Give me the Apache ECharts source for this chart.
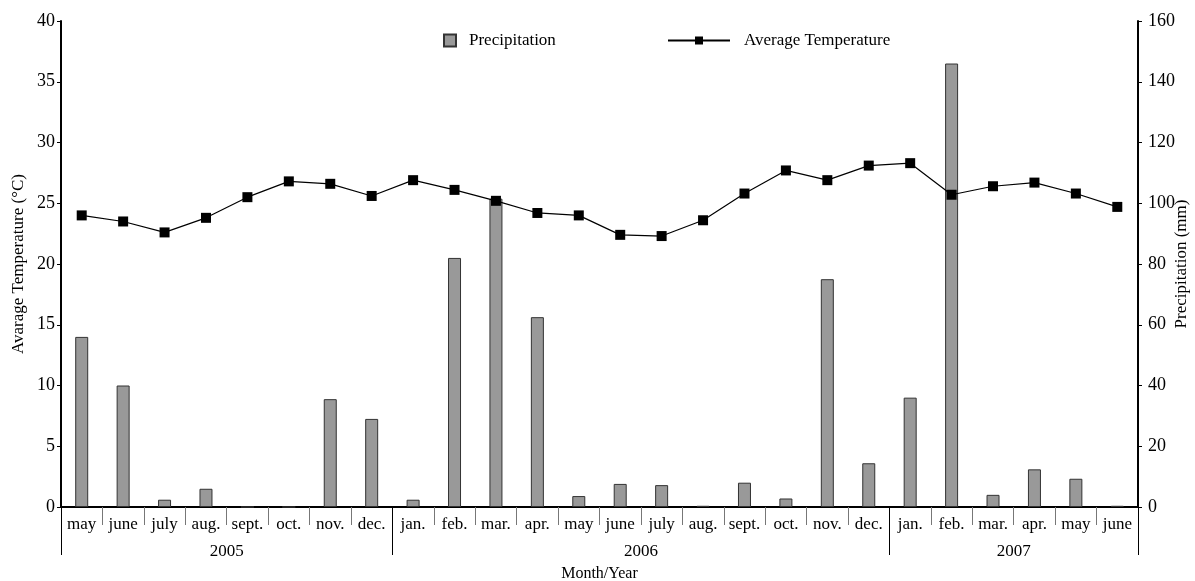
<!DOCTYPE html>
<html><head><meta charset="utf-8">
<script src="https://cdn.jsdelivr.net/npm/echarts@6/dist/echarts.min.js"></script>
<style>html,body{margin:0;padding:0;background:#fff}#c{width:1195px;height:581px}</style>
</head><body><div id="c"></div>
<script>
var months = ['may','june','july','aug.','sept.','oct.','nov.','dec.','jan.','feb.','mar.','apr.','may','june','july','aug.','sept.','oct.','nov.','dec.','jan.','feb.','mar.','apr.','may','june'];
var years = ['2005','2006','2007'];
var yearLabelPos = [4, 14, 23];
var yearBoundaries = [0, 8, 20, 26];
var precipitation = [56,40,2.4,6,0,0,35.5,29,2.4,82,101.5,62.5,3.6,7.6,7.2,0.4,8,2.8,75,14.4,36,146,4,12.4,9.3,0.4];
var temperature = [24.0,23.5,22.6,23.8,25.5,26.8,26.6,25.6,26.9,26.1,25.2,24.2,24.0,22.4,22.3,23.6,25.8,27.7,26.9,28.1,28.3,25.7,26.4,26.7,25.8,24.7];
var tempTicks = {min:0, max:40, interval:5};
var precTicks = {min:0, max:160, interval:20};

var font = 'Liberation Serif';
var chart = echarts.init(document.getElementById('c'));
chart.setOption({
  animation:false,
  textStyle:{fontFamily:font, color:'#000'},
  legend:[
    {data:[{name:'Precipitation', icon:'rect'}], left:443, top:32, padding:0, itemWidth:12, itemHeight:12,
     textStyle:{fontFamily:font, fontSize:17, color:'#000', padding:[0,0,0,8]}},
    {data:['Average Temperature'], left:667, top:32, padding:0, itemWidth:62, itemHeight:10,
     textStyle:{fontFamily:font, fontSize:17, color:'#000', padding:[0,0,0,9]}}
  ],
  grid:{left:61, right:57, top:21, bottom:74, containLabel:false, outerBoundsMode:'none'},
  xAxis:[
    {type:'category', data:months, boundaryGap:true,
     axisLine:{lineStyle:{color:'#000', width:2}},
     axisTick:{show:true, length:18, lineStyle:{color:'#777', width:1}},
     axisLabel:{fontFamily:font, fontSize:17, color:'#000', margin:9, interval:0}},
    {type:'value', min:0, max:26, position:'bottom',
     axisLine:{show:false}, splitLine:{show:false},
     axisTick:{show:true, customValues:yearBoundaries, length:48, lineStyle:{color:'#000', width:1}},
     axisLabel:{show:true, customValues:yearLabelPos, margin:36, fontFamily:font, fontSize:17, color:'#000',
       formatter:function(v){var i=yearLabelPos.indexOf(v);return i>=0?years[i]:'';}},
     name:'Month/Year', nameLocation:'middle', nameGap:59, nameMoveOverlap:false,
     nameTextStyle:{fontFamily:font, fontSize:16, color:'#000'}}
  ],
  yAxis:[
    {type:'value', min:tempTicks.min, max:tempTicks.max, interval:tempTicks.interval, position:'left',
     axisLine:{show:true, lineStyle:{color:'#000', width:2}},
     axisTick:{show:true, length:4, lineStyle:{color:'#000'}},
     axisLabel:{fontFamily:font, fontSize:18, color:'#000', margin:6},
     splitLine:{show:false},
     name:'Avarage Temperature (°C)', nameLocation:'middle', nameRotate:90, nameGap:34, nameMoveOverlap:false,
     nameTextStyle:{fontFamily:font, fontSize:17, color:'#000'}},
    {type:'value', min:precTicks.min, max:precTicks.max, interval:precTicks.interval, position:'right',
     axisLine:{show:true, lineStyle:{color:'#000', width:2}},
     axisTick:{show:true, length:4, lineStyle:{color:'#000'}},
     axisLabel:{fontFamily:font, fontSize:18, color:'#000', margin:10},
     splitLine:{show:false},
     name:'Precipitation (mm)', nameLocation:'middle', nameRotate:90, nameGap:35, nameMoveOverlap:false,
     nameTextStyle:{fontFamily:font, fontSize:17, color:'#000'}}
  ],
  series:[
    {name:'Precipitation', type:'bar', xAxisIndex:0, yAxisIndex:1, data:precipitation, barWidth:13,
     itemStyle:{color:'#999999', borderColor:'#333', borderWidth:1}},
    {name:'Average Temperature', type:'line', xAxisIndex:0, yAxisIndex:0, data:temperature,
     symbol:'rect', symbolSize:10, lineStyle:{color:'#000', width:1.2},
     itemStyle:{color:'#000'}}
  ]
});
</script></body></html>
